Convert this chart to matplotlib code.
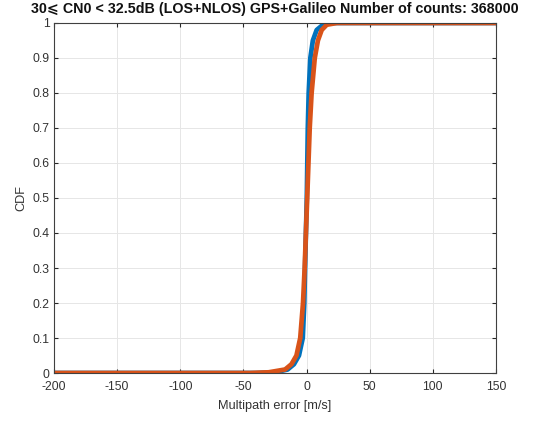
import matplotlib.pyplot as plt
import numpy as np

plt.rcParams['font.family'] = ['Liberation Sans', 'DejaVu Sans']
plt.rcParams['axes.unicode_minus'] = False

# CDF of the multipath error, read as (error [m/s], cumulative probability)
gps_err = [-200, -40, -25, -15, -10, -6, -3, -1.8, -1.2, -0.5, 0.2, 0.6, 1.0, 1.7, 3.0, 5.0, 8.0, 13.0, 20.0, 150]
gps_cdf = [0.0, 0.0, 0.002, 0.01, 0.025, 0.05, 0.1, 0.2, 0.3, 0.4, 0.5, 0.6, 0.7, 0.8, 0.9, 0.95, 0.98, 0.995, 1.0, 1.0]

gal_err = [-200, -45, -30, -17, -12, -8, -5, -2.8, -1.5, -0.5, 0.5, 1.5, 2.5, 4.0, 6.5, 9.0, 12.0, 16.0, 24.0, 150]
gal_cdf = [0.0, 0.0, 0.002, 0.01, 0.025, 0.05, 0.1, 0.2, 0.3, 0.4, 0.5, 0.6, 0.7, 0.8, 0.9, 0.95, 0.98, 0.995, 1.0, 1.0]

x_ticks = [-200, -150, -100, -50, 0, 50, 100, 150]
y_ticks = [0, 0.1, 0.2, 0.3, 0.4, 0.5, 0.6, 0.7, 0.8, 0.9, 1]
y_tick_labels = ['0', '0.1', '0.2', '0.3', '0.4', '0.5', '0.6', '0.7', '0.8', '0.9', '1']

fig = plt.figure(figsize=(5.34, 4.21), dpi=100)
ax = fig.add_axes([0.1011, 0.114, 0.8277, 0.8314])

ax.plot(gps_err, gps_cdf, color='#0072BD', linewidth=3.4, solid_capstyle='butt')
ax.plot(gal_err, gal_cdf, color='#D95319', linewidth=3.4, solid_capstyle='butt')

ax.set_xlim(-200, 150)
ax.set_ylim(0, 1)
ax.set_xticks(x_ticks)
ax.set_yticks(y_ticks)
ax.set_yticklabels(y_tick_labels)
ax.tick_params(direction='in', length=3, labelsize=8.8, colors='#262626',
               labelcolor='#333333', top=True, right=True, pad=3)
ax.tick_params(axis='x', pad=6)
ax.grid(True, color='#E6E6E6', linewidth=0.7)
ax.set_axisbelow(True)
for s in ax.spines.values():
    s.set_color('#404040')
    s.set_linewidth(0.8)

ax.set_xlabel('Multipath error [m/s]', fontsize=9.2, color='#333333', labelpad=5)
ax.set_ylabel('CDF', fontsize=9.2, color='#333333', labelpad=4)
ax.set_title('30\u2a7d CN0 < 32.5dB (LOS+NLOS) GPS+Galileo Number of counts: 368000',
             fontsize=10.3, fontweight='bold', color='#111111', pad=7)

fig.savefig('out.png', dpi=100, facecolor='white')
